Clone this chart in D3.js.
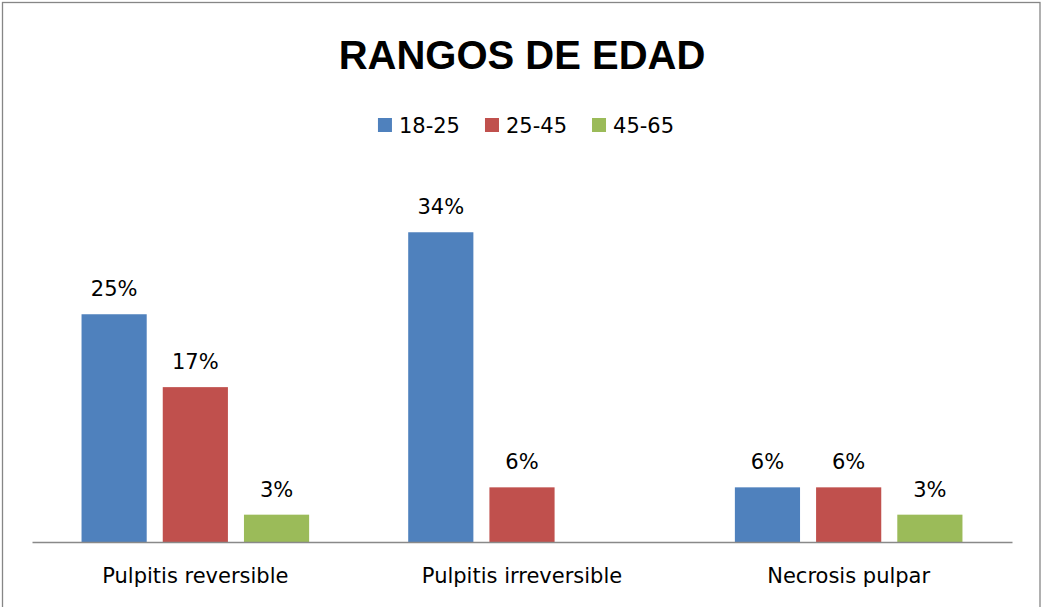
<!DOCTYPE html>
<html>
<head>
<meta charset="utf-8">
<script src="https://cdn.jsdelivr.net/npm/d3@7"></script>
<style>
  body { margin: 0; background: #fff; }
  svg { display: block; }
</style>
</head>
<body>
<svg id="chart"></svg>
<script>
// data
var categories = ["Pulpitis reversible", "Pulpitis irreversible", "Necrosis pulpar"];
var seriesNames = ["18-25", "25-45", "45-65"];
var seriesColors = ["#4F81BD", "#C0504D", "#9BBB59"];
var values1825 = [25, 34, 6];
var values2545 = [17, 6, 6];
var values4565 = [3, null, 3];
var seriesValues = [values1825, values2545, values4565];
var titleText = "RANGOS DE EDAD";

var W = 1042, H = 607;
var svg = d3.select("#chart").attr("width", W).attr("height", H);

// outer chart border
svg.append("rect")
  .attr("x", 2.5).attr("y", 2.5)
  .attr("width", W - 4.5).attr("height", H + 10)
  .attr("fill", "#fff")
  .attr("stroke", "#868686")
  .attr("stroke-width", 1.3);

// scales
var x0 = d3.scaleBand().domain(categories).range([32, 1012]).paddingInner(0).paddingOuter(0);
var x1 = d3.scaleBand().domain(seriesNames).range([0, x0.bandwidth()])
  .paddingInner(16 / 81).paddingOuter(0.61);
var y = d3.scaleLinear().domain([0, 40]).range([542, 542 - 40 * 9.11]);

// build rows for drawing
var rows = [];
categories.forEach(function(c, i) {
  seriesNames.forEach(function(s, j) {
    rows.push({ cat: c, series: s, color: seriesColors[j], value: seriesValues[j][i] });
  });
});
var present = rows.filter(function(d) { return d.value != null && d.value > 0; });

// bars
svg.append("g").selectAll("rect")
  .data(present)
  .enter()
  .append("rect")
  .attr("x", function(d) { return x0(d.cat) + x1(d.series); })
  .attr("y", function(d) { return y(d.value); })
  .attr("width", x1.bandwidth())
  .attr("height", function(d) { return y(0) - y(d.value); })
  .attr("fill", function(d) { return d.color; });

// value labels
svg.append("g").selectAll("text")
  .data(present)
  .enter()
  .append("text")
  .attr("x", function(d) { return x0(d.cat) + x1(d.series) + x1.bandwidth() / 2; })
  .attr("y", function(d) { return y(d.value) - 18; })
  .attr("text-anchor", "middle")
  .style("font-family", "DejaVu Sans")
  .style("font-size", "21px")
  .attr("fill", "#000")
  .text(function(d) { return d.value + "%"; });

// category axis
var xAxis = d3.axisBottom(x0).tickSize(0).tickPadding(41);
var axisG = svg.append("g")
  .attr("transform", "translate(0," + y(0) + ")")
  .call(xAxis);
axisG.select(".domain").attr("stroke", "#898989").attr("stroke-width", 1.3);
axisG.selectAll("text")
  .style("font-family", "DejaVu Sans")
  .style("font-size", "21px")
  .attr("fill", "#000")
  .attr("dy", "0");

// title
svg.append("text")
  .attr("x", 522)
  .attr("y", 69)
  .attr("text-anchor", "middle")
  .style("font-family", "Liberation Sans")
  .style("font-weight", "bold")
  .style("font-size", "40px")
  .attr("fill", "#000")
  .text(titleText);

// legend
var legend = svg.append("g");
var lx = 0;
seriesNames.forEach(function(s, i) {
  var item = legend.append("g").attr("transform", "translate(" + lx + ",0)");
  item.append("rect")
    .attr("x", 0).attr("y", 118)
    .attr("width", 14).attr("height", 14)
    .attr("fill", seriesColors[i]);
  var t = item.append("text")
    .attr("x", 21).attr("y", 133)
    .style("font-family", "DejaVu Sans")
    .style("font-size", "21px")
    .attr("fill", "#000")
    .text(s);
  lx += 21 + t.node().getComputedTextLength() + 25;
});
var legendWidth = lx - 25;
legend.attr("transform", "translate(" + (526 - legendWidth / 2) + ",0)");
</script>
</body>
</html>
